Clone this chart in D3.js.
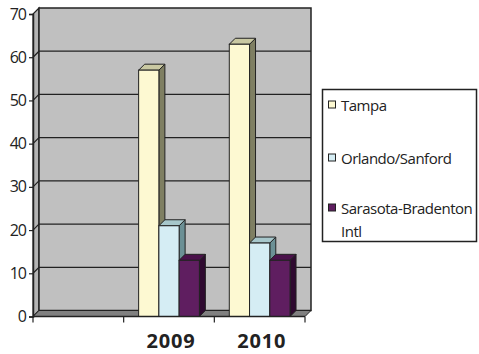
<!DOCTYPE html>
<html>
<head>
<meta charset="utf-8">
<script src="https://cdn.jsdelivr.net/npm/d3@7"></script>
<style>
  body { margin: 0; background: #fff; }
  svg { display: block; font-family: "Open Sans", "Noto Sans", sans-serif; }
</style>
</head>
<body>
<div id="chart"></div>
<script>
const categories = ["", "2009", "2010"];
const seriesNames = ["Tampa", "Orlando/Sanford", "Sarasota-Bradenton Intl"];
const tampa = [null, 57, 63];
const orlando = [null, 21, 17];
const sarasota = [null, 13, 13];
const yTicks = [0, 10, 20, 30, 40, 50, 60, 70];

const width = 479;
const height = 354;
const dx = 6, dy = 6;

const colors = [
    { front: "#fdf9d2", top: "#c9c8a2", side: "#7f7f62" },
    { front: "#d5edf4", top: "#a7c7cb", side: "#6b9095" },
    { front: "#5f1e60", top: "#4a114a", side: "#2f0a30" }
];

const svg = d3.select("#chart").append("svg")
    .attr("width", width)
    .attr("height", height);

const x = d3.scaleBand()
    .domain(categories.map((d, i) => i))
    .range([33, 305]);

const y = d3.scaleLinear()
    .domain([0, 70])
    .range([316.5, 14]);

const x1 = d3.scaleBand()
    .domain([0, 1, 2])
    .range([x.bandwidth() * 0.165, x.bandwidth() * 0.835]);

const line = "#222";

// left wall
svg.append("path")
    .attr("d", `M33,${y(0)}L33,${y(70)}L${33 + dx},${y(70) - dy}L${33 + dx},${y(0) - dy}Z`)
    .attr("fill", "#b4b4b4")
    .attr("stroke", line)
    .attr("stroke-width", 1.2);

// back wall
svg.append("rect")
    .attr("x", 33 + dx)
    .attr("y", y(70) - dy)
    .attr("width", 305 - 33)
    .attr("height", y(0) - y(70))
    .attr("fill", "#c0c0c0")
    .attr("stroke", line)
    .attr("stroke-width", 1.5);

// gridlines
svg.append("g")
    .selectAll("path")
    .data(yTicks.filter(d => d > 0 && d < 70))
    .enter()
    .append("path")
    .attr("d", d => `M33,${y(d)}L${33 + dx},${y(d) - dy}L${305 + dx},${y(d) - dy}`)
    .attr("fill", "none")
    .attr("stroke", line)
    .attr("stroke-width", 1.2);

// floor
svg.append("path")
    .attr("d", `M33,${y(0)}L305,${y(0)}L${305 + dx},${y(0) - dy}L${33 + dx},${y(0) - dy}Z`)
    .attr("fill", "#808080")
    .attr("stroke", line)
    .attr("stroke-width", 1);

// bars
const series = [tampa, orlando, sarasota];
categories.forEach((c, ci) => {
    series.forEach((vals, si) => {
        const v = vals[ci];
        if (v == null) return;
        const bx = x(ci) + x1(si);
        const w = x1.bandwidth();
        const top = y(v), bot = y(0);
        const g = svg.append("g");
        g.append("path")
            .attr("d", `M${bx + w},${top}L${bx + w + dx},${top - dy}L${bx + w + dx},${bot - dy}L${bx + w},${bot}Z`)
            .attr("fill", colors[si].side)
            .attr("stroke", line)
            .attr("stroke-width", 1);
        g.append("path")
            .attr("d", `M${bx},${top}L${bx + dx},${top - dy}L${bx + w + dx},${top - dy}L${bx + w},${top}Z`)
            .attr("fill", colors[si].top)
            .attr("stroke", line)
            .attr("stroke-width", 1);
        g.append("rect")
            .attr("x", bx)
            .attr("y", top)
            .attr("width", w)
            .attr("height", bot - top)
            .attr("fill", colors[si].front)
            .attr("stroke", line)
            .attr("stroke-width", 1);
    });
});

// y axis
const yAxis = svg.append("g")
    .attr("transform", "translate(33,0)")
    .call(d3.axisLeft(y).tickValues(yTicks).tickSize(4).tickPadding(3));
yAxis.select(".domain").attr("stroke", line).attr("stroke-width", 1.5);
yAxis.selectAll(".tick line").attr("stroke", line).attr("stroke-width", 1.2);
yAxis.selectAll(".tick text")
    .attr("font-size", 16)
    .attr("letter-spacing", "-1px")
    .attr("fill", "#222")
    .attr("font-family", "'Open Sans', sans-serif");

// x axis
const xAxis = svg.append("g")
    .attr("transform", `translate(0,${y(0)})`);
xAxis.append("line")
    .attr("x1", 33).attr("x2", 305)
    .attr("stroke", line).attr("stroke-width", 1.5);
xAxis.selectAll("line.tick")
    .data(d3.range(categories.length + 1))
    .enter()
    .append("line")
    .attr("class", "tick")
    .attr("x1", i => i < categories.length ? x(i) : x.range()[1])
    .attr("x2", i => i < categories.length ? x(i) : x.range()[1])
    .attr("y1", 0).attr("y2", 6)
    .attr("stroke", line).attr("stroke-width", 1.2);
xAxis.selectAll("text")
    .data(categories)
    .enter()
    .append("text")
    .attr("x", (d, i) => x(i) + x.bandwidth() / 2 + 2)
    .attr("y", 31.5)
    .attr("text-anchor", "middle")
    .attr("font-size", 20)
    .attr("letter-spacing", "0.8px")
    .attr("font-weight", "bold")
    .attr("fill", "#222")
    .text(d => d);

// legend
const legend = svg.append("g");
legend.append("rect")
    .attr("x", 322.5).attr("y", 89.5)
    .attr("width", 154).attr("height", 152)
    .attr("fill", "#fff")
    .attr("stroke", line)
    .attr("stroke-width", 1.5);

const legendRows = [
    { lines: ["Tampa"], y: 110.5 },
    { lines: ["Orlando/Sanford"], y: 163.5 },
    { lines: ["Sarasota-Bradenton", "Intl"], y: 213.5 }
];
legendRows.forEach((r, i) => {
    legend.append("rect")
        .attr("x", 328.5).attr("y", r.y - 9.5)
        .attr("width", 7).attr("height", 7)
        .attr("fill", colors[i].front)
        .attr("stroke", line)
        .attr("stroke-width", 1);
    const t = legend.append("text")
        .attr("x", 341)
        .attr("y", r.y)
        .attr("font-size", 15)
        .attr("letter-spacing", "-0.5px")
        .attr("fill", "#222");
    r.lines.forEach((l, j) => {
        t.append("tspan")
            .attr("x", 341)
            .attr("dy", j === 0 ? 0 : 23)
            .text(l);
    });
});
</script>
</body>
</html>
